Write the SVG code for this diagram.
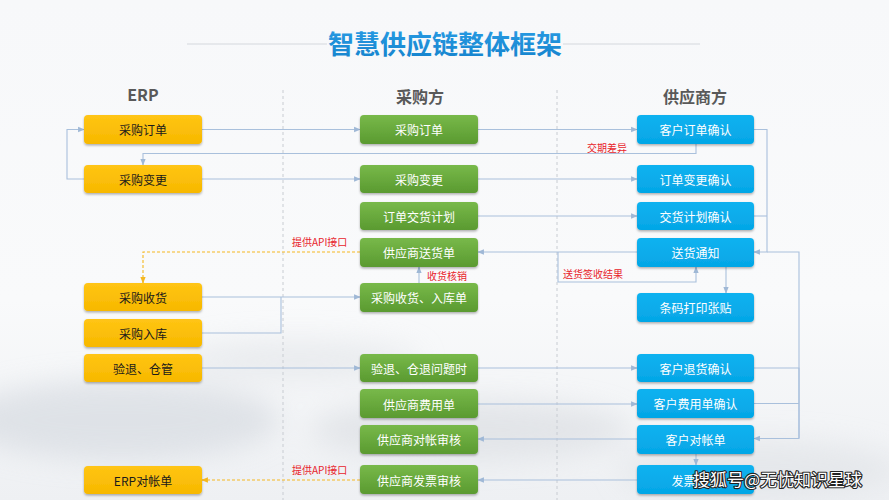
<svg xmlns="http://www.w3.org/2000/svg" width="889" height="500" viewBox="0 0 889 500">
<defs>
<linearGradient id="bg" x1="0" y1="0" x2="0" y2="1">
<stop offset="0" stop-color="#f7f8fa"/><stop offset="0.6" stop-color="#f9fafb"/><stop offset="1" stop-color="#eef0f3"/>
</linearGradient>
<linearGradient id="gY" x1="0" y1="0" x2="0" y2="1"><stop offset="0" stop-color="#ffc514"/><stop offset="1" stop-color="#f7b800"/></linearGradient>
<linearGradient id="gG" x1="0" y1="0" x2="0" y2="1"><stop offset="0" stop-color="#78b94a"/><stop offset="1" stop-color="#5a9a30"/></linearGradient>
<linearGradient id="gB" x1="0" y1="0" x2="0" y2="1"><stop offset="0" stop-color="#11b2f0"/><stop offset="1" stop-color="#04a6e6"/></linearGradient>
<linearGradient id="gT" x1="0" y1="0" x2="0" y2="1"><stop offset="0" stop-color="#2a9ee6"/><stop offset="1" stop-color="#1582cc"/></linearGradient>
<filter id="sh" x="-10%" y="-20%" width="120%" height="150%"><feDropShadow dx="0" dy="1.5" stdDeviation="1.2" flood-color="#000" flood-opacity="0.3"/></filter>
<filter id="blur" x="-50%" y="-50%" width="200%" height="200%"><feGaussianBlur stdDeviation="14"/></filter>
<marker id="ar" viewBox="0 0 10 10" refX="9" refY="5" markerWidth="6" markerHeight="6" orient="auto"><path d="M0,1 L10,5 L0,9 z" fill="#9fb8d6"/></marker>
<marker id="ao" viewBox="0 0 10 10" refX="9" refY="5" markerWidth="6" markerHeight="6" orient="auto"><path d="M0,1 L10,5 L0,9 z" fill="#f5b820"/></marker>
<style>
.y{fill:url(#gY);filter:url(#sh)}
.g{fill:url(#gG);filter:url(#sh)}
.b{fill:url(#gB);filter:url(#sh)}
.tk{font-family:"Noto Sans CJK SC","Liberation Sans",sans-serif;font-size:12px;fill:#1a1a1a;text-anchor:middle;dominant-baseline:central}
.tw{font-family:"Noto Sans CJK SC","Liberation Sans",sans-serif;font-size:12px;fill:#ffffff;text-anchor:middle;dominant-baseline:central}
.hd{font-family:"Noto Sans CJK SC","Liberation Sans",sans-serif;font-size:16px;font-weight:bold;fill:#595959;text-anchor:middle}
.lb{font-family:"Noto Sans CJK SC","Liberation Sans",sans-serif;font-size:10px;fill:#e8242c}
.c{fill:none;stroke:#a9c0dc;stroke-width:1.1}
.ca{fill:none;stroke:#a9c0dc;stroke-width:1.1;marker-end:url(#ar)}
.d{fill:none;stroke:#f5b820;stroke-width:1.1;stroke-dasharray:3 2;marker-end:url(#ao)}
.v{stroke:#c8ccd2;stroke-width:1;stroke-dasharray:3 3}
</style>
</defs>
<rect width="889" height="500" fill="url(#bg)"/>
<g opacity="0.55" filter="url(#blur)">
<ellipse cx="120" cy="420" rx="160" ry="40" fill="#cfd4db"/>
<ellipse cx="470" cy="430" rx="160" ry="30" fill="#d6d9de"/>
<ellipse cx="300" cy="360" rx="120" ry="20" fill="#dfe2e6"/>
<ellipse cx="760" cy="470" rx="140" ry="30" fill="#dde0e4"/>
</g>
<g id="title">
<line x1="187" y1="44" x2="327" y2="44" stroke="#d4d8dd" stroke-width="1"/>
<line x1="563" y1="44" x2="700" y2="44" stroke="#d4d8dd" stroke-width="1"/>
<text x="445" y="54" font-family="'Noto Sans CJK SC','Liberation Sans',sans-serif" font-size="26" font-weight="bold" fill="url(#gT)" text-anchor="middle">智慧供应链整体框架</text>
</g>
<g id="headers">
<text class="hd" x="143" y="101">ERP</text>
<text class="hd" x="420" y="103">采购方</text>
<text class="hd" x="695" y="103">供应商方</text>
<line class="v" x1="283" y1="90" x2="283" y2="500"/>
<line class="v" x1="557" y1="90" x2="557" y2="500"/>
</g>
<g id="connectors">
<path class="ca" d="M202,129.5 H360"/>
<path class="ca" d="M478,129.5 H637"/>
<path class="ca" d="M696,144 V153.5 H143 V165"/>
<path class="ca" d="M84,179 H67 V129.5 H84"/>
<path class="ca" d="M202,179 H360"/>
<path class="ca" d="M478,179 H637"/>
<path class="ca" d="M478,216 H637"/>
<path class="ca" d="M754,129.5 H767 V252 H754"/>
<path class="c" d="M754,216 H767"/>
<path class="c" d="M767,252 H799 V438"/>
<path class="ca" d="M754,368 H799 V438.5 H754"/>
<path class="c" d="M754,403.5 H799"/>
<path class="ca" d="M637,252 H478"/>
<path class="ca" d="M558,252 V282 H696 V267"/>
<path class="ca" d="M726,267 V293"/>
<path class="ca" d="M419,283 V267"/>
<path class="d" d="M360,252 H143 V283"/>
<path class="ca" d="M202,297 H360"/>
<path class="c" d="M202,333 H281 V297"/>
<path class="ca" d="M202,368 H360"/>
<path class="ca" d="M478,368 H637"/>
<path class="ca" d="M478,404 H637"/>
<path class="ca" d="M637,439 H478"/>
<path class="ca" d="M696,454 V465"/>
<path class="ca" d="M637,480 H478"/>
<path class="d" d="M360,480 H202"/>
<text class="lb" x="587" y="152">交期差异</text>
<text class="lb" x="563" y="278">送货签收结果</text>
<text class="lb" x="427" y="280">收货核销</text>
<text class="lb" x="292" y="246">提供API接口</text>
<text class="lb" x="292" y="474">提供API接口</text>
</g>
<g id="erp-order"><rect class="y" x="84" y="115" width="118" height="29" rx="4"/><text class="tk" x="143" y="129.5">采购订单</text></g>
<g id="erp-change"><rect class="y" x="84" y="165" width="118" height="28" rx="4"/><text class="tk" x="143" y="179">采购变更</text></g>
<g id="erp-receive"><rect class="y" x="84" y="283" width="118" height="28" rx="4"/><text class="tk" x="143" y="297">采购收货</text></g>
<g id="erp-stock"><rect class="y" x="84" y="319" width="118" height="28" rx="4"/><text class="tk" x="143" y="333">采购入库</text></g>
<g id="erp-return"><rect class="y" x="84" y="354" width="118" height="28" rx="4"/><text class="tk" x="143" y="368">验退、仓管</text></g>
<g id="erp-statement"><rect class="y" x="84" y="466" width="118" height="28" rx="4"/><text class="tk" x="143" y="480">ERP对帐单</text></g>
<g id="p-order"><rect class="g" x="360" y="115" width="118" height="29" rx="4"/><text class="tw" x="419" y="129.5">采购订单</text></g>
<g id="p-change"><rect class="g" x="360" y="165" width="118" height="28" rx="4"/><text class="tw" x="419" y="179">采购变更</text></g>
<g id="p-plan"><rect class="g" x="360" y="202" width="118" height="28" rx="4"/><text class="tw" x="419" y="216">订单交货计划</text></g>
<g id="p-delivery"><rect class="g" x="360" y="238" width="118" height="29" rx="4"/><text class="tw" x="419" y="252">供应商送货单</text></g>
<g id="p-receipt"><rect class="g" x="360" y="283" width="118" height="29" rx="4"/><text class="tw" x="419" y="297">采购收货、入库单</text></g>
<g id="p-return"><rect class="g" x="360" y="354" width="118" height="28" rx="4"/><text class="tw" x="419" y="368">验退、仓退问题时</text></g>
<g id="p-fee"><rect class="g" x="360" y="389" width="118" height="29" rx="4"/><text class="tw" x="419" y="404">供应商费用单</text></g>
<g id="p-recon"><rect class="g" x="360" y="425" width="118" height="29" rx="4"/><text class="tw" x="419" y="439">供应商对帐审核</text></g>
<g id="p-invoice"><rect class="g" x="360" y="465" width="118" height="29" rx="4"/><text class="tw" x="419" y="480">供应商发票审核</text></g>
<g id="s-order"><rect class="b" x="637" y="115" width="117" height="29" rx="4"/><text class="tw" x="695.5" y="129.5">客户订单确认</text></g>
<g id="s-change"><rect class="b" x="637" y="165" width="117" height="28" rx="4"/><text class="tw" x="695.5" y="179">订单变更确认</text></g>
<g id="s-plan"><rect class="b" x="637" y="202" width="117" height="28" rx="4"/><text class="tw" x="695.5" y="216">交货计划确认</text></g>
<g id="s-notice"><rect class="b" x="637" y="238" width="117" height="29" rx="4"/><text class="tw" x="695.5" y="252">送货通知</text></g>
<g id="s-barcode"><rect class="b" x="637" y="293" width="117" height="29" rx="4"/><text class="tw" x="695.5" y="307.5">条码打印张贴</text></g>
<g id="s-return"><rect class="b" x="637" y="354" width="117" height="28" rx="4"/><text class="tw" x="695.5" y="368">客户退货确认</text></g>
<g id="s-fee"><rect class="b" x="637" y="389" width="117" height="29" rx="4"/><text class="tw" x="695.5" y="403.5">客户费用单确认</text></g>
<g id="s-statement"><rect class="b" x="637" y="425" width="117" height="29" rx="4"/><text class="tw" x="695.5" y="439">客户对帐单</text></g>
<g id="s-invoice"><rect class="b" x="637" y="465" width="117" height="29" rx="4"/><text class="tw" x="695.5" y="480">发票确认</text></g>
<g id="watermark">
<text x="693" y="486" font-family="'Noto Sans CJK SC','Liberation Sans',sans-serif" font-size="17" fill="#ffffff" stroke="#222" stroke-width="2.2" paint-order="stroke" stroke-linejoin="round">搜狐号@无忧知识星球</text>
</g>
</svg>
